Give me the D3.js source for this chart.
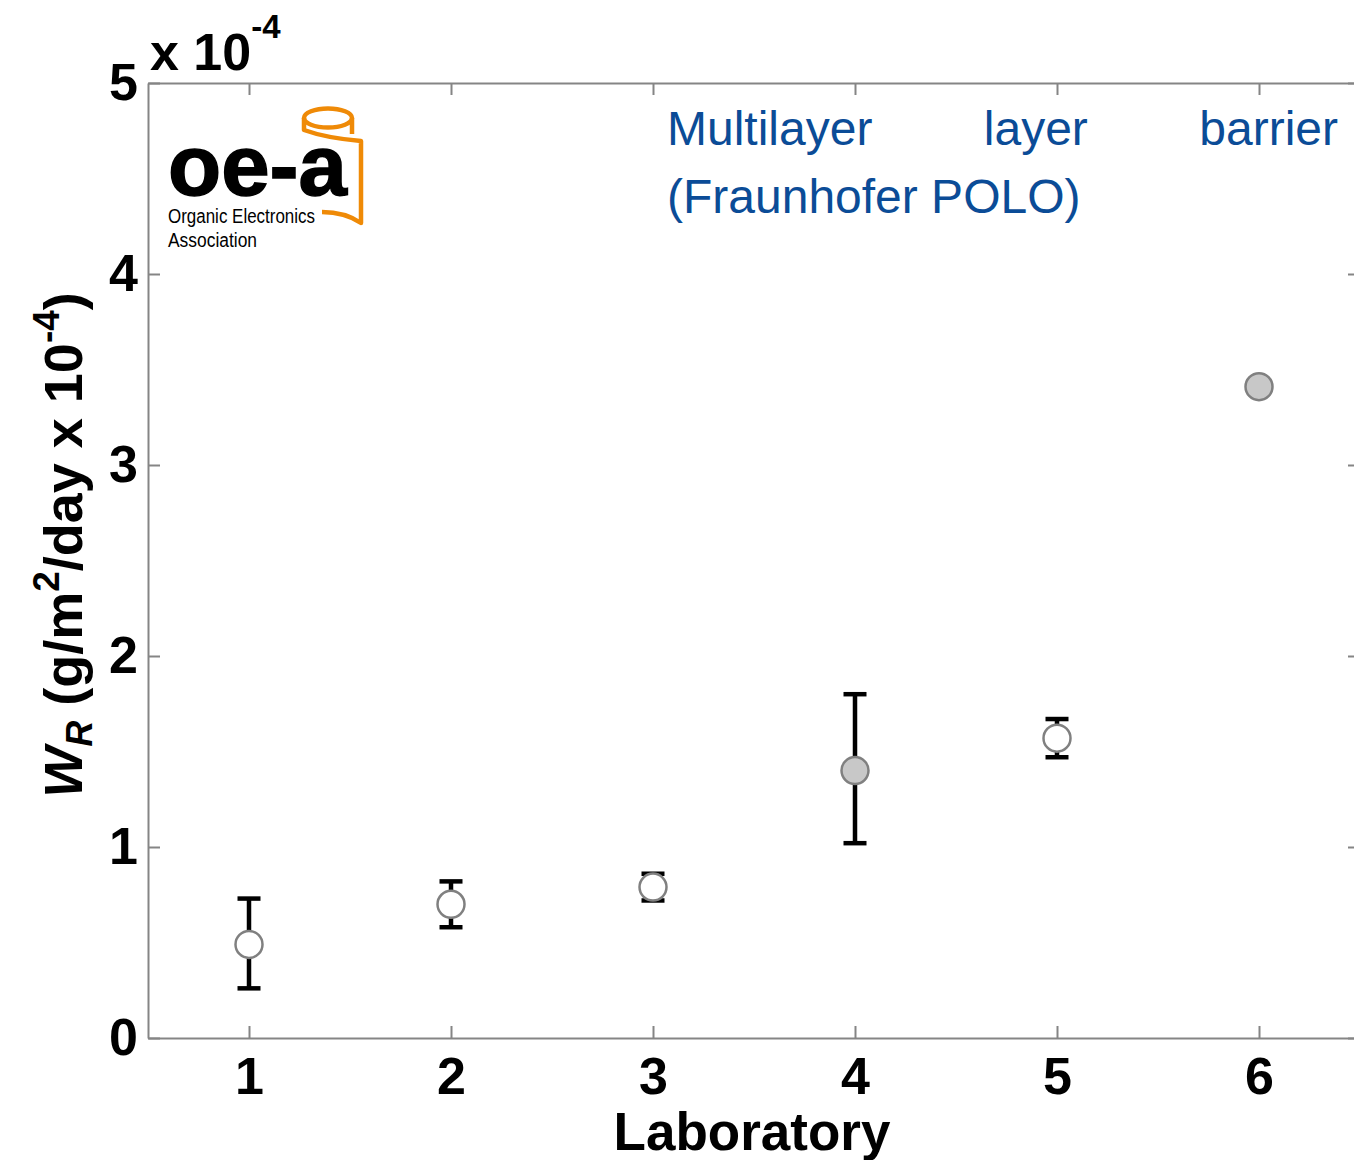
<!DOCTYPE html>
<html>
<head>
<meta charset="utf-8">
<script src="https://cdn.jsdelivr.net/npm/d3@7"></script>
<style>
  body { margin: 0; background: #fff; }
  svg { display: block; font-family: "Liberation Sans", Arial, sans-serif; }
  .axis path, .axis line { stroke: #858585; stroke-width: 2; }
  .axis text { font-size: 52px; font-weight: bold; fill: #000; font-family: "Liberation Sans", Arial, sans-serif; }
</style>
</head>
<body>
<div id="chart"></div>
<script>
const labs = [1, 2, 3, 4, 5, 6];
const wr = [0.49, 0.70, 0.79, 1.40, 1.57, 3.41];
const errLow = [0.26, 0.58, 0.72, 1.02, 1.47, null];
const errHigh = [0.73, 0.82, 0.86, 1.80, 1.67, null];
const filled = [false, false, false, true, false, true];
const yTicks = [0, 1, 2, 3, 4, 5];
const noteWords = ['Multilayer', 'layer', 'barrier'];
const noteLine2 = '(Fraunhofer POLO)';

const width = 1354, height = 1160;
const plotLeft = 148, plotRight = 1360, plotTop = 83, plotBottom = 1038;

const svg = d3.select('#chart').append('svg')
    .attr('width', width)
    .attr('height', height);

const x = d3.scaleLinear().domain([0.5, 6.5]).range([plotLeft, plotRight]);
const y = d3.scaleLinear().domain([0, 5]).range([plotBottom, plotTop]);
const fmt = d3.format('d');

// axes, ticks pointing inward like matlab
svg.append('g').attr('class', 'axis')
    .attr('transform', `translate(0,${plotBottom})`)
    .call(d3.axisBottom(x).tickValues(labs).tickFormat(fmt).tickSizeInner(-12).tickSizeOuter(0).tickPadding(19));
svg.append('g').attr('class', 'axis')
    .attr('transform', `translate(0,${plotTop})`)
    .call(d3.axisTop(x).tickValues(labs).tickSizeInner(-12).tickSizeOuter(0).tickFormat(''));
svg.append('g').attr('class', 'axis')
    .attr('transform', `translate(${plotLeft},0)`)
    .call(d3.axisLeft(y).tickValues(yTicks).tickFormat(fmt).tickSizeInner(-12).tickSizeOuter(0).tickPadding(10));
svg.append('g').attr('class', 'axis')
    .attr('transform', `translate(${plotRight},0)`)
    .call(d3.axisRight(y).tickValues(yTicks).tickSizeInner(-12).tickSizeOuter(0).tickFormat(''));

// x 10^-4 multiplier
const mult = svg.append('text')
    .attr('x', 150).attr('y', 70)
    .attr('font-size', 52).attr('font-weight', 'bold');
mult.append('tspan').text('x 10');
mult.append('tspan').attr('font-size', 33).attr('dy', -32).text('-4');

// axis titles
svg.append('text')
    .attr('x', (plotLeft + plotRight) / 2 - 2).attr('y', 1150)
    .attr('text-anchor', 'middle')
    .attr('font-size', 53).attr('font-weight', 'bold')
    .text('Laboratory');

const ylab = svg.append('text')
    .attr('transform', 'translate(82,545) rotate(-90)')
    .attr('text-anchor', 'middle')
    .attr('font-size', 54).attr('font-weight', 'bold');
ylab.append('tspan').attr('font-style', 'italic').text('W');
ylab.append('tspan').attr('font-style', 'italic').attr('font-size', 36).attr('dy', 10).text('R');
ylab.append('tspan').attr('dy', -10).text(' (g/m');
ylab.append('tspan').attr('font-size', 37).attr('dy', -23).text('2');
ylab.append('tspan').attr('dy', 23).text('/day x 10');
ylab.append('tspan').attr('font-size', 37).attr('dy', -23).text('-4');
ylab.append('tspan').attr('dy', 23).text(')');

// error bars
const pts = labs.map((d, i) => ({lab: d, v: wr[i], lo: errLow[i], hi: errHigh[i], fill: filled[i]}));
const capHalf = 11.5;
const eb = svg.append('g').selectAll('g')
    .data(pts.filter(d => d.lo != null))
    .enter().append('g')
    .attr('stroke', '#000').attr('stroke-width', 4.5);
eb.append('line')
    .attr('x1', d => x(d.lab)).attr('x2', d => x(d.lab))
    .attr('y1', d => y(d.lo)).attr('y2', d => y(d.hi));
eb.append('line')
    .attr('x1', d => x(d.lab) - capHalf).attr('x2', d => x(d.lab) + capHalf)
    .attr('y1', d => y(d.lo)).attr('y2', d => y(d.lo));
eb.append('line')
    .attr('x1', d => x(d.lab) - capHalf).attr('x2', d => x(d.lab) + capHalf)
    .attr('y1', d => y(d.hi)).attr('y2', d => y(d.hi));

svg.append('g').selectAll('circle')
    .data(pts)
    .enter().append('circle')
    .attr('cx', d => x(d.lab))
    .attr('cy', d => y(d.v))
    .attr('r', 13.5)
    .attr('fill', d => d.fill ? '#c8c8c8' : '#fff')
    .attr('stroke', '#808080')
    .attr('stroke-width', 2.5);

// note text, justified on first line
const noteColor = '#0b4c97';
const noteG = svg.append('g').attr('fill', noteColor).attr('font-size', 48);
const words = noteG.selectAll('text.w').data(noteWords).enter().append('text')
    .attr('class', 'w').attr('y', 145).text(d => d);
const wlen = [];
words.each(function() { wlen.push(this.getComputedTextLength()); });
const nx0 = 667, nx1 = 1338;
const gap = (nx1 - nx0 - d3.sum(wlen)) / (noteWords.length - 1);
let cx = nx0;
words.attr('x', (d, i) => { const p = cx; cx += wlen[i] + gap; return p; });
noteG.append('text').attr('x', nx0).attr('y', 213).text(noteLine2);

// oe-a logo
const logo = svg.append('g');
const orange = '#ef8a07';
logo.append('ellipse')
    .attr('cx', 328).attr('cy', 118).attr('rx', 24).attr('ry', 9.5)
    .attr('fill', 'none').attr('stroke', orange).attr('stroke-width', 4.5);
logo.append('path')
    .attr('d', 'M304,118 L304,130 Q326,138 361,141 L361,223 Q345,212 322,212 M352,118 L352,134')
    .attr('fill', 'none').attr('stroke', orange).attr('stroke-width', 4.5)
    .attr('stroke-linejoin', 'round');
logo.append('text')
    .attr('x', 168).attr('y', 195)
    .attr('font-size', 86).attr('font-weight', 'bold')
    .attr('stroke', '#000').attr('stroke-width', 1.5)
    .attr('textLength', 179).attr('lengthAdjust', 'spacingAndGlyphs')
    .text('oe-a');
logo.append('text')
    .attr('x', 168).attr('y', 223).attr('font-size', 20)
    .attr('textLength', 147).attr('lengthAdjust', 'spacingAndGlyphs')
    .text('Organic Electronics');
logo.append('text')
    .attr('x', 168).attr('y', 247).attr('font-size', 20)
    .attr('textLength', 89).attr('lengthAdjust', 'spacingAndGlyphs')
    .text('Association');
</script>
</body>
</html>
